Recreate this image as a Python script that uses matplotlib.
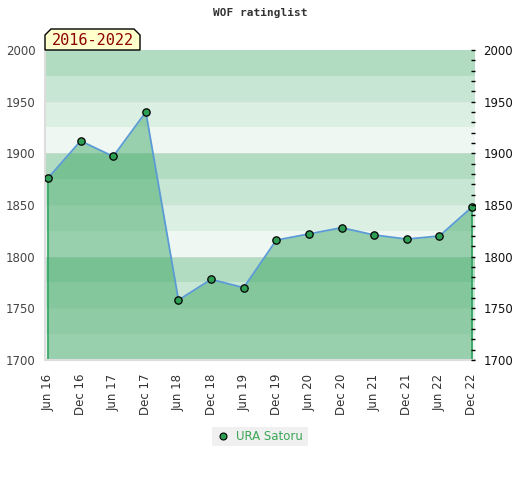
import numpy as np
import matplotlib
matplotlib.use("Agg")
import matplotlib.pyplot as plt
import matplotlib.patches as patches
from matplotlib.ticker import MultipleLocator

# data
periods = ["Jun 16", "Dec 16", "Jun 17", "Dec 17", "Jun 18", "Dec 18", "Jun 19",
           "Dec 19", "Jun 20", "Dec 20", "Jun 21", "Dec 21", "Jun 22", "Dec 22"]
ratings = [1876, 1912, 1897, 1940, 1758, 1778, 1770,
           1816, 1822, 1828, 1821, 1817, 1820, 1848]
player = "URA Satoru"
span_label = "2016-2022"

band_colors = ["#b2dcc2", "#c8e6d4", "#dcefe3", "#eef7f1"]
fill_color = "#31a25a"
line_color = "#5b9bd5"
marker_color = "#2e9e55"

fig = plt.figure(figsize=(5.2, 4.8), dpi=100)
ax = fig.add_axes([45/520, 1 - 360/480, 430/520, 310/480])

x = np.arange(len(periods))
ymin, ymax = 1700, 2000
ax.set_xlim(-0.092, len(periods) - 1 + 0.092)
ax.set_ylim(ymin, ymax)

# background bands, 25 points each
for i, y0 in enumerate(range(ymax, ymin, -25)):
    ax.axhspan(y0 - 25, y0, color=band_colors[i % 4], lw=0, zorder=0)
for y in range(1750, 2000, 50):
    ax.axhline(y, color="#dddddd", lw=0.6, alpha=0.5, zorder=0.5)

ax.fill_between(x, ratings, ymin, color=fill_color, alpha=0.45, lw=0, zorder=1)
ax.vlines([x[0], x[-1]], ymin, [ratings[0], ratings[-1]], color="#2ca25f", lw=1.2, zorder=2)
ax.plot(x, ratings, color=line_color, lw=1.3, zorder=3)
ax.scatter(x, ratings, s=28, color=marker_color, edgecolors="black", linewidths=0.9, zorder=4)

# spines
for s in ["top", "right"]:
    ax.spines[s].set_visible(False)
for s in ["left", "bottom"]:
    ax.spines[s].set_color("#dddddd")
    ax.spines[s].set_linewidth(1.5)

ax.set_xticks(x)
ax.set_xticklabels(periods, rotation=90, fontsize=8.5, color="#333333")
ax.tick_params(axis="x", length=0, pad=10)
ax.set_yticks(range(1700, 2001, 50))
ax.tick_params(axis="y", length=0, labelsize=8.5, colors="#444444", pad=7)

# right axis with minor ticks
ax2 = ax.twinx()
ax2.set_ylim(ymin, ymax)
ax2.set_yticks(range(1700, 2001, 50))
ax2.yaxis.set_minor_locator(MultipleLocator(10))
ax2.tick_params(axis="y", which="both", direction="in", length=3, width=1,
                labelsize=8.5, labelcolor="#111111", pad=6)
for s in ax2.spines.values():
    s.set_visible(False)

fig.text(0.5, 1 - 13/480, "WOF ratinglist", ha="center", va="center",
         fontsize=8, family="DejaVu Sans Mono", weight="bold", color="#333333")

# period label box with cut corners
bx0, by0, bx1, by1 = 45, 29, 140, 50
c = 6
pts = [(bx0, by1), (bx0, by0 + c), (bx0 + c, by0), (bx1 - c, by0), (bx1, by0 + c), (bx1, by1)]
pts = [(px / 520, 1 - py / 480) for px, py in pts]
fig.patches.append(patches.Polygon(pts, closed=True, transform=fig.transFigure,
                                   facecolor="#ffffcc", edgecolor="black", lw=1, zorder=5))
fig.text((bx0 + bx1) / 2 / 520, 1 - 40.5 / 480, span_label, ha="center", va="center",
         fontsize=11, family="DejaVu Sans Mono", color="#8b0000", zorder=6)

# legend
fig.patches.append(patches.Rectangle((212/520, 1 - 446/480), 96/520, 19/480,
                                     transform=fig.transFigure, facecolor="#f0f0f0",
                                     edgecolor="none"))
fig.lines.append(plt.Line2D([223/520], [1 - 436/480], marker="o", markersize=5,
                            color=marker_color, markeredgecolor="black",
                            markeredgewidth=0.8, transform=fig.transFigure))
fig.text(236/520, 1 - 436/480, player, ha="left", va="center", fontsize=8.5,
         color="#3aa655")

fig.savefig("out.png", dpi=100)
